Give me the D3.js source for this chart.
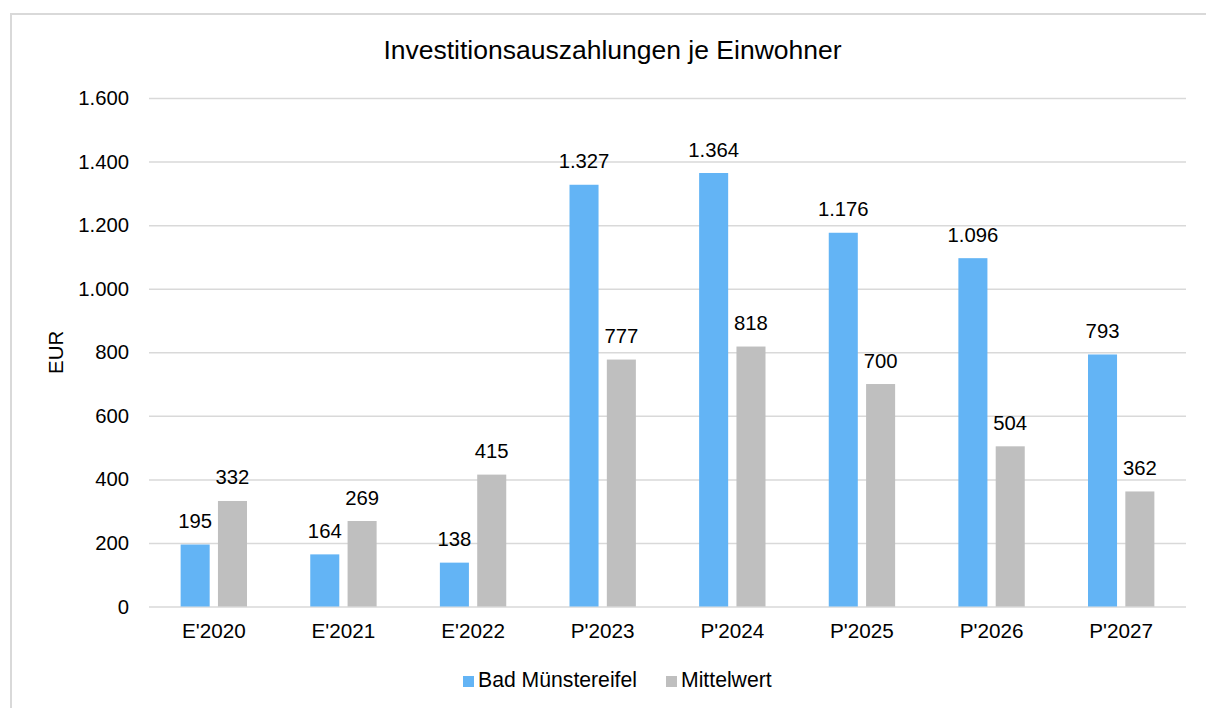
<!DOCTYPE html>
<html>
<head>
<meta charset="utf-8">
<script src="https://cdn.jsdelivr.net/npm/d3@7"></script>
<style>
  html, body { margin: 0; padding: 0; background: #fff; }
  svg { display: block; font-family: "Liberation Sans", Arial, sans-serif; }
</style>
</head>
<body>
<svg id="chart" width="1206" height="708"></svg>
<script>
"use strict";

// data
const categories = ["E'2020", "E'2021", "E'2022", "P'2023", "P'2024", "P'2025", "P'2026", "P'2027"];
const seriesNames = ["Bad Münstereifel", "Mittelwert"];
const badMuenstereifel = [195, 164, 138, 1327, 1364, 1176, 1096, 793];
const mittelwert = [332, 269, 415, 777, 818, 700, 504, 362];
const yTicks = [0, 200, 400, 600, 800, 1000, 1200, 1400, 1600];
const colors = ["#63B4F5", "#BFBFBF"];

const svg = d3.select("#chart");

// plot area
const plotLeft = 149, plotRight = 1186, plotTop = 98, plotBottom = 606.5;

const x0 = d3.scaleBand().domain(categories).range([plotLeft, plotRight])
    .paddingInner(0.488).paddingOuter(0.244);
const x1 = d3.scaleBand().domain(seriesNames).range([0, x0.bandwidth()])
    .paddingInner(0.222).paddingOuter(0);
const y = d3.scaleLinear().domain([0, 1600]).range([plotBottom, plotTop]);

// German number format: 1.327
const fmt = d3.formatLocale({decimal: ",", thousands: ".", grouping: [3], currency: ["", " €"]}).format(",d");

// frame (clipped at right and bottom like the screenshot)
svg.append("rect")
    .attr("x", 11).attr("y", 14)
    .attr("width", 1230).attr("height", 720)
    .attr("fill", "none").attr("stroke", "#D9D9D9").attr("stroke-width", 2);

// gridlines + tick labels
const yAxis = d3.axisLeft(y).tickValues(yTicks).tickSize(-(plotRight - plotLeft)).tickPadding(20).tickFormat(fmt);
const gy = svg.append("g").attr("transform", `translate(${plotLeft},0)`).call(yAxis);
gy.select(".domain").remove();
gy.selectAll(".tick line").attr("stroke", "#D9D9D9").attr("stroke-width", 1.5);
gy.selectAll(".tick text")
    .attr("fill", "#000").attr("font-size", 20.3)
    .attr("font-family", "Liberation Sans, Arial, sans-serif");

// x labels
const xAxis = d3.axisBottom(x0).tickSize(0).tickPadding(17);
const gx = svg.append("g").attr("transform", `translate(0,${plotBottom})`).call(xAxis);
gx.select(".domain").remove();
gx.selectAll(".tick text")
    .attr("fill", "#000").attr("font-size", 20.7)
    .attr("font-family", "Liberation Sans, Arial, sans-serif");

// bars
const rows = categories.map((c, i) => ({cat: c, vals: [badMuenstereifel[i], mittelwert[i]]}));

const groups = svg.append("g").selectAll("g")
    .data(rows).join("g")
    .attr("transform", d => `translate(${x0(d.cat)},0)`);

groups.selectAll("rect")
    .data(d => d.vals.map((v, k) => ({name: seriesNames[k], v, k})))
    .join("rect")
    .attr("x", d => x1(d.name))
    .attr("y", d => y(d.v))
    .attr("width", x1.bandwidth())
    .attr("height", d => y(0) - y(d.v))
    .attr("fill", d => colors[d.k]);

groups.selectAll("text")
    .data(d => d.vals.map((v, k) => ({name: seriesNames[k], v, k})))
    .join("text")
    .attr("x", d => x1(d.name) + x1.bandwidth() / 2)
    .attr("y", d => y(d.v) - 16.5)
    .attr("text-anchor", "middle")
    .attr("font-size", 20.3)
    .attr("fill", "#000")
    .text(d => fmt(d.v));

// title
svg.append("text")
    .attr("x", 612.5).attr("y", 59)
    .attr("text-anchor", "middle")
    .attr("font-size", 26.5)
    .attr("fill", "#000")
    .text("Investitionsauszahlungen je Einwohner");

// y axis title
svg.append("text")
    .attr("transform", `translate(63,${(plotTop + plotBottom) / 2}) rotate(-90)`)
    .attr("text-anchor", "middle")
    .attr("font-size", 20.5)
    .attr("fill", "#000")
    .text("EUR");

// legend
const legendItems = [{name: seriesNames[0], x: 463}, {name: seriesNames[1], x: 666}];
const lg = svg.append("g").selectAll("g").data(legendItems).join("g")
    .attr("transform", d => `translate(${d.x},676)`);
lg.append("rect").attr("width", 11).attr("height", 11)
    .attr("fill", (d, i) => colors[i]);
lg.append("text").attr("x", 15).attr("y", 10.5)
    .attr("font-size", 21.2).attr("fill", "#000")
    .text(d => d.name);
</script>
</body>
</html>
